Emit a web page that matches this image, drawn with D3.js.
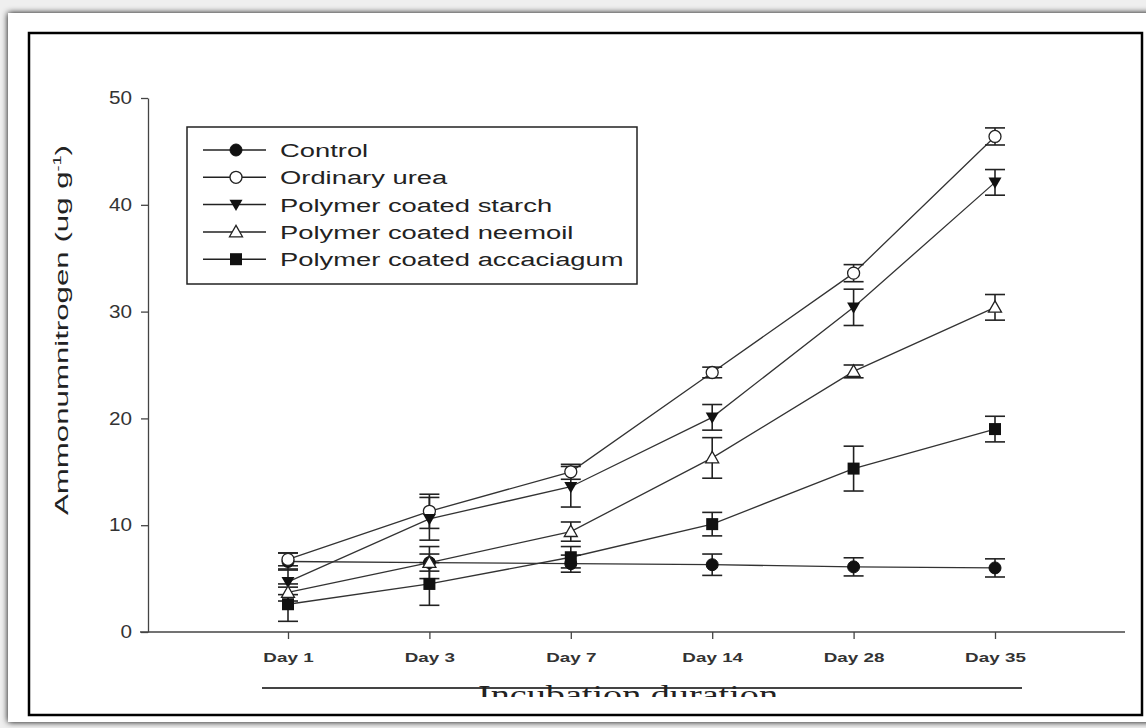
<!DOCTYPE html>
<html><head><meta charset="utf-8">
<script src="https://cdn.jsdelivr.net/npm/d3@7"></script>
<style>html,body{margin:0;padding:0;background:#fff;}svg{display:block;}</style>
</head><body>
<svg id="c" width="1146" height="728"></svg>
<script>
const categories = ["Day 1","Day 3","Day 7","Day 14","Day 28","Day 35"];
const seriesNames = ["Control","Ordinary urea","Polymer coated starch","Polymer coated neemoil","Polymer coated accaciagum"];
const legendLabels = ["Control","Ordinary urea","Polymer coated starch","Polymer coated neemoil","Polymer coated accaciagum"];
const controlVals = [6.6, 6.5, 6.4, 6.3, 6.1, 6.0];
const controlErr  = [0.8, 0.8, 0.8, 1.0, 0.85, 0.85];
const ureaVals = [6.8, 11.3, 15.0, 24.3, 33.6, 46.4];
const ureaErr  = [0.6, 1.6, 0.7, 0.5, 0.8, 0.8];
const starchVals = [4.7, 10.6, 13.6, 20.1, 30.4, 42.1];
const starchErr  = [1.2, 2.0, 1.9, 1.2, 1.7, 1.2];
const neemVals = [3.7, 6.5, 9.4, 16.3, 24.4, 30.4];
const neemErr  = [0.8, 1.5, 0.9, 1.9, 0.6, 1.2];
const gumVals = [2.6, 4.5, 7.0, 10.1, 15.3, 19.0];
const gumErr  = [1.6, 2.0, 1.0, 1.1, 2.1, 1.2];
const yTicks = [0, 10, 20, 30, 40, 50];
const markers = ["circleFilled","circleOpen","triDownFilled","triUpOpen","squareFilled"];

const allVals = [controlVals, ureaVals, starchVals, neemVals, gumVals];
const allErr = [controlErr, ureaErr, starchErr, neemErr, gumErr];

const svg = d3.select("#c");
svg.append("rect").attr("x",0).attr("y",0).attr("width",1146).attr("height",728).attr("fill","#efefef");
const defs = svg.append("defs");
const f = defs.append("filter").attr("id","sh").attr("x","-5%").attr("y","-5%").attr("width","110%").attr("height","110%");
f.append("feGaussianBlur").attr("in","SourceAlpha").attr("stdDeviation",3);
f.append("feOffset").attr("dx",0).attr("dy",0).attr("result","b");
const fm = f.append("feMerge"); fm.append("feMergeNode").attr("in","b"); fm.append("feMergeNode").attr("in","SourceGraphic");
svg.append("rect").attr("x",8).attr("y",13).attr("width",1145).attr("height",709).attr("fill","#fff").attr("filter","url(#sh)");
svg.append("rect").attr("x",29).attr("y",33).attr("width",1113).attr("height",682)
  .attr("fill","#fff").attr("stroke","#000").attr("stroke-width",2.5);

const x = d3.scalePoint().domain(categories).range([288, 995]);
const y = d3.scaleLinear().domain([0, 50]).range([632, 98]);

// Y axis
const yAxis = d3.axisLeft(y).tickValues(yTicks).tickSize(7).tickPadding(12).tickSizeOuter(0);
const gy = svg.append("g").attr("transform","translate(148,0)").call(yAxis);
gy.select(".domain").attr("stroke","#444").attr("stroke-width",1.3);
gy.selectAll(".tick line").attr("stroke","#444").attr("stroke-width",1.3);
gy.selectAll("text").attr("font-family","Liberation Sans, Arial, sans-serif").attr("font-size",18).attr("fill","#333")
  .attr("x",0).attr("transform","translate(-16,0) scale(1.15,1)");

// X axis
svg.append("line").attr("x1",140).attr("x2",1125).attr("y1",632).attr("y2",632).attr("stroke","#444").attr("stroke-width",1.5);
const xAxis = d3.axisBottom(x).tickSize(7).tickPadding(14).tickSizeOuter(0);
const gx = svg.append("g").attr("transform","translate(0,632)").call(xAxis);
gx.select(".domain").remove();
gx.selectAll(".tick line").attr("stroke","#444").attr("stroke-width",1.3);
gx.selectAll("text").attr("font-family","Liberation Sans, Arial, sans-serif").attr("font-size",13).attr("font-weight","bold").attr("fill","#333")
  .attr("transform","scale(1.45,1)");

// line under labels
svg.append("line").attr("x1",262).attr("x2",1022).attr("y1",688).attr("y2",688).attr("stroke","#444").attr("stroke-width",2);
// clipped title
defs.append("clipPath").attr("id","tclip").append("rect").attr("x",0).attr("y",670).attr("width",1146).attr("height",27);
svg.append("text").attr("x",478).attr("y",704)
  .attr("font-family","Liberation Serif, serif").attr("font-size",28).attr("fill","#222")
  .attr("textLength",300).attr("lengthAdjust","spacingAndGlyphs")
  .attr("clip-path","url(#tclip)").text("Incubation duration");

// Y label
svg.append("text").attr("transform","translate(68,330) rotate(-90)").attr("text-anchor","middle")
  .attr("font-family","Liberation Sans, Arial, sans-serif").attr("font-size",19).attr("fill","#222")
  .attr("textLength",370).attr("lengthAdjust","spacingAndGlyphs")
  .html('Ammonumnitrogen (ug g<tspan dy="-7" font-size="11">-1</tspan><tspan dy="7">)</tspan>');

function drawMarker(g, type, cx, cy) {
  const s = 6.5;
  if (type === "circleFilled") g.append("circle").attr("cx",cx).attr("cy",cy).attr("r",6).attr("fill","#111").attr("stroke","#111");
  else if (type === "circleOpen") g.append("circle").attr("cx",cx).attr("cy",cy).attr("r",6).attr("fill","#fff").attr("stroke","#222").attr("stroke-width",1.3);
  else if (type === "triDownFilled") g.append("path").attr("d",`M${cx-s},${cy-s*0.75}L${cx+s},${cy-s*0.75}L${cx},${cy+s}Z`).attr("fill","#111");
  else if (type === "triUpOpen") g.append("path").attr("d",`M${cx-s},${cy+s*0.75}L${cx+s},${cy+s*0.75}L${cx},${cy-s}Z`).attr("fill","#fff").attr("stroke","#222").attr("stroke-width",1.3);
  else if (type === "squareFilled") g.append("rect").attr("x",cx-6).attr("y",cy-6).attr("width",12).attr("height",12).attr("fill","#111");
}

const line = d3.line().x((d,i)=>x(categories[i])).y(d=>y(d));
const plot = svg.append("g");
allVals.forEach((vals) => {
  plot.append("path").datum(vals).attr("d", line).attr("fill","none").attr("stroke","#333").attr("stroke-width",1.3);
});
allVals.forEach((vals, si) => {
  vals.forEach((v, i) => {
    const cx = x(categories[i]), e = allErr[si][i];
    const g = plot.append("g").attr("stroke","#222").attr("stroke-width",1.6);
    g.append("line").attr("x1",cx).attr("x2",cx).attr("y1",y(v-e)).attr("y2",y(v+e));
    g.append("line").attr("x1",cx-10).attr("x2",cx+10).attr("y1",y(v-e)).attr("y2",y(v-e));
    g.append("line").attr("x1",cx-10).attr("x2",cx+10).attr("y1",y(v+e)).attr("y2",y(v+e));
  });
});
allVals.forEach((vals, si) => {
  vals.forEach((v, i) => drawMarker(plot, markers[si], x(categories[i]), y(v)));
});

// legend
const lg = svg.append("g");
lg.append("rect").attr("x",187).attr("y",127).attr("width",450).attr("height",157).attr("fill","#fff").attr("stroke","#222").attr("stroke-width",1.5);
legendLabels.forEach((lab, i) => {
  const ly = 150 + i * 27.3;
  lg.append("line").attr("x1",203).attr("x2",266).attr("y1",ly).attr("y2",ly).attr("stroke","#222").attr("stroke-width",1.5);
  drawMarker(lg, markers[i], 236, ly);
  lg.append("text").attr("transform",`translate(280,${ly+7}) scale(1.44,1)`).attr("font-family","Liberation Sans, Arial, sans-serif").attr("font-size",19).attr("fill","#222").text(lab);
});
</script>
</body></html>
